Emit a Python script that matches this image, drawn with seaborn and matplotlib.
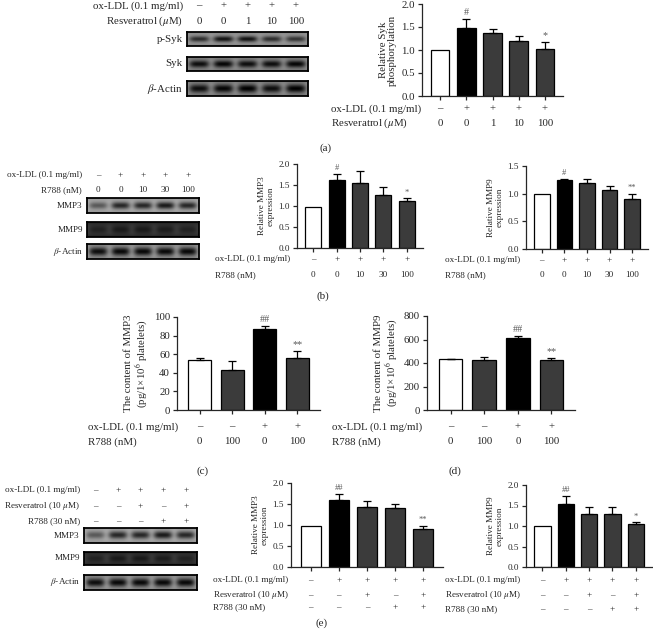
import numpy as np
import seaborn as sns
import matplotlib.pyplot as plt
from matplotlib.transforms import blended_transform_factory

# ---- data ----
# (a) ox-LDL + resveratrol, Syk phosphorylation
a_oxldl = ['–', '+', '+', '+', '+']
a_resv = ['0', '0', '1', '10', '100']
a_syk = [1.00, 1.47, 1.37, 1.19, 1.03]
a_syk_err = [0.0, 0.20, 0.08, 0.12, 0.15]
a_syk_sig = ['', '#', '', '', '*']
a_blot_psyk = [0.45, 0.55, 0.55, 0.45, 0.42]
a_blot_syk = [0.55, 0.58, 0.55, 0.55, 0.58]
a_blot_actin = [0.55, 0.58, 0.6, 0.55, 0.6]

# (b) ox-LDL + R788, MMP3 / MMP9 expression
b_oxldl = ['–', '+', '+', '+', '+']
b_r788 = ['0', '0', '10', '30', '100']
b_mmp3 = [0.97, 1.62, 1.55, 1.27, 1.11]
b_mmp3_err = [0.0, 0.15, 0.28, 0.19, 0.07]
b_mmp3_sig = ['', '#', '', '', '*']
b_mmp9 = [0.99, 1.25, 1.19, 1.07, 0.90]
b_mmp9_err = [0.0, 0.02, 0.07, 0.06, 0.10]
b_mmp9_sig = ['', '#', '', '', '**']
b_blot_mmp3 = [0.35, 0.55, 0.55, 0.6, 0.55]
b_blot_mmp9 = [0.12, 0.15, 0.15, 0.14, 0.12]
b_blot_actin = [0.6, 0.62, 0.62, 0.62, 0.62]

# (c)/(d) content in platelets
cd_oxldl = ['–', '–', '+', '+']
cd_r788 = ['0', '100', '0', '100']
c_mmp3 = [54, 43, 87, 56]
c_mmp3_err = [2, 10, 3, 7]
c_sig = ['', '', '##', '**']
d_mmp9 = [432, 425, 610, 425]
d_mmp9_err = [6, 27, 18, 17]
d_sig = ['', '', '##', '**']

# (e) ox-LDL + resveratrol + R788
e_oxldl = ['–', '+', '+', '+', '+']
e_resv = ['–', '–', '+', '–', '+']
e_r788 = ['–', '–', '–', '+', '+']
e_mmp3 = [0.98, 1.59, 1.44, 1.40, 0.90]
e_mmp3_err = [0.0, 0.16, 0.13, 0.11, 0.08]
e_mmp3_sig = ['', '##', '', '', '**']
e_mmp9 = [1.00, 1.54, 1.30, 1.30, 1.05]
e_mmp9_err = [0.0, 0.20, 0.16, 0.16, 0.04]
e_mmp9_sig = ['', '##', '', '', '*']
e_blot_mmp3 = [0.35, 0.55, 0.55, 0.6, 0.55]
e_blot_mmp9 = [0.12, 0.15, 0.15, 0.14, 0.12]
e_blot_actin = [0.6, 0.62, 0.62, 0.62, 0.62]

W, H = 653, 635
sns.set_theme(style='ticks')
plt.rcParams['font.family'] = ['Liberation Serif', 'DejaVu Serif']
plt.rcParams['mathtext.fontset'] = 'stix'

fig = plt.figure(figsize=(W / 100, H / 100), dpi=100)
fig.patch.set_facecolor('white')

WHITE, BLACK, GREY = 'white', 'black', '#3b3b3b'


def add_ax(l, t, r, b):
    return fig.add_axes([l / W, 1 - b / H, (r - l) / W, (b - t) / H])


def fy(y):
    return 1 - y / H


def bar_panel(box, vals, errs, sig, colors, ylim, yticks, ylabel, rows, label_x, fs):
    ax = add_ax(*box)
    cats = [str(i) for i in range(len(vals))]
    sns.barplot(x=cats, y=vals, hue=cats, palette=colors, legend=False, width=0.7,
                edgecolor='black', linewidth=0.9, ax=ax)
    idx = [i for i, e in enumerate(errs) if e > 0]
    ax.errorbar(idx, [vals[i] for i in idx],
                yerr=[[0] * len(idx), [errs[i] for i in idx]],
                fmt='none', ecolor='black', elinewidth=0.9, capsize=3, capthick=0.9)
    for i, s in enumerate(sig):
        if s:
            ax.text(i, vals[i] + errs[i] + (ylim[1] - ylim[0]) * 0.02, s, ha='center', va='bottom',
                    fontsize=fs - 0.5, color='0.35')
    ax.set_xlim(-0.7, len(vals) - 0.3)
    ax.set_ylim(*ylim)
    ax.set_yticks(yticks)
    ax.set_yticklabels([f'{t:.1f}' if isinstance(t, float) else str(t) for t in yticks], fontsize=fs)
    ax.set_xticks(range(len(vals)))
    ax.set_xticklabels([])
    ax.tick_params(length=3, width=0.9, pad=2)
    ax.set_ylabel(ylabel, fontsize=fs, labelpad=3, linespacing=1.0)
    ax.set_xlabel('')
    sns.despine(ax=ax)
    for s in ['left', 'bottom']:
        ax.spines[s].set_linewidth(0.9)
    tr = blended_transform_factory(ax.transData, fig.transFigure)
    for y, name, labels in rows:
        fig.text(label_x / W, fy(y), name, ha='left', va='center', fontsize=fs)
        for i, lab in enumerate(labels):
            ax.text(i, fy(y), lab, transform=tr, ha='center', va='center', fontsize=fs)
    return ax


def blot(box, lanes, bg, sy, label, fs):
    ax = add_ax(*box)
    n = len(lanes)
    X, Y = np.meshgrid(np.linspace(0, n, 300), np.linspace(0, 1, 40))
    img = np.full(X.shape, bg) - 0.12 * (np.abs(Y - 0.5) * 2) ** 3
    for i, v in enumerate(lanes):
        img = img - v * np.exp(-((X - (i + 0.5)) / 0.42) ** 4 - ((Y - 0.5) / sy) ** 2)
    ax.imshow(np.clip(img, 0, 1), cmap='gray', vmin=0, vmax=1, extent=(0, n, 0, 1),
              aspect='auto', origin='lower', interpolation='bilinear')
    ax.set_xticks([])
    ax.set_yticks([])
    for s in ax.spines.values():
        s.set_linewidth(1.3)
        s.set_color('black')
    ax.annotate(label, xy=(0, 0.5), xycoords='axes fraction', xytext=(-3, 0),
                textcoords='offset points', ha='right', va='center', fontsize=fs)
    return ax


def blot_header(ax, rows, right_x, fs):
    tr = blended_transform_factory(ax.transData, fig.transFigure)
    for y, name, labels in rows:
        fig.text(right_x / W, fy(y), name, ha='right', va='center', fontsize=fs)
        for i, lab in enumerate(labels):
            ax.text(i + 0.5, fy(y), lab, transform=tr, ha='center', va='center', fontsize=fs)


# ---- (a) ----
fa = 7.8
ax = blot((187, 32, 308, 46), a_blot_psyk, 0.62, 0.22, 'p-Syk', fa)
blot((187, 57, 308, 71), a_blot_syk, 0.6, 0.28, 'Syk', fa)
blot((187, 81, 308, 96), a_blot_actin, 0.6, 0.3, r'$\beta$-Actin', fa)
blot_header(ax, [(6, 'ox-LDL (0.1 mg/ml)', a_oxldl), (21, r'Resveratrol ($\mu$M)', a_resv)], 183, fa)
bar_panel((422, 4, 563, 96), a_syk, a_syk_err, a_syk_sig, [WHITE, BLACK, GREY, GREY, GREY],
          (0, 2.0), [0.0, 0.5, 1.0, 1.5, 2.0], 'Relative Syk\nphosphorylation',
          [(109, 'ox-LDL (0.1 mg/ml)', a_oxldl), (123, r'Resveratrol ($\mu$M)', a_resv)], 331, fa)
fig.text(326 / W, fy(148), '(a)', ha='center', va='center', fontsize=8)

# ---- (b) ----
fb = 6.6
ax = blot((87, 198, 199, 213), b_blot_mmp3, 0.7, 0.25, 'MMP3', fb)
blot((87, 222, 199, 237), b_blot_mmp9, 0.25, 0.3, 'MMP9', fb)
blot((87, 244, 199, 259), b_blot_actin, 0.65, 0.3, r'$\beta$-Actin', fb)
blot_header(ax, [(175, 'ox-LDL (0.1 mg/ml)', b_oxldl), (190, 'R788 (nM)', b_r788)], 82, fb)
bar_panel((297, 164, 423, 248), b_mmp3, b_mmp3_err, b_mmp3_sig, [WHITE, BLACK, GREY, GREY, GREY],
          (0, 2.0), [0.0, 0.5, 1.0, 1.5, 2.0], 'Relative MMP3\nexpression',
          [(259, 'ox-LDL (0.1 mg/ml)', b_oxldl), (275, 'R788 (nM)', b_r788)], 215, fb)
bar_panel((526, 166, 648, 249), b_mmp9, b_mmp9_err, b_mmp9_sig, [WHITE, BLACK, GREY, GREY, GREY],
          (0, 1.5), [0.0, 0.5, 1.0, 1.5], 'Relative MMP9\nexpression',
          [(260, 'ox-LDL (0.1 mg/ml)', b_oxldl), (275, 'R788 (nM)', b_r788)], 445, fb)
fig.text(323 / W, fy(296), '(b)', ha='center', va='center', fontsize=8)

# ---- (c), (d) ----
fc = 7.8
bar_panel((177, 317, 320, 410), c_mmp3, c_mmp3_err, c_sig, [WHITE, GREY, BLACK, GREY],
          (0, 100), [0, 20, 40, 60, 80, 100], 'The content of MMP3\n(pg/1×10$^6$ platelets)',
          [(427, 'ox-LDL (0.1 mg/ml)', cd_oxldl), (442, 'R788 (nM)', cd_r788)], 88, fc)
bar_panel((427, 316, 575, 410), d_mmp9, d_mmp9_err, d_sig, [WHITE, GREY, BLACK, GREY],
          (0, 800), [0, 200, 400, 600, 800], 'The content of MMP9\n(pg/1×10$^6$ platelets)',
          [(427, 'ox-LDL (0.1 mg/ml)', cd_oxldl), (442, 'R788 (nM)', cd_r788)], 332, fc)
fig.text(203 / W, fy(471), '(c)', ha='center', va='center', fontsize=8)
fig.text(455 / W, fy(471), '(d)', ha='center', va='center', fontsize=8)

# ---- (e) ----
fe = 6.6
ax = blot((84, 528, 197, 543), e_blot_mmp3, 0.7, 0.25, 'MMP3', fe)
blot((84, 552, 197, 565), e_blot_mmp9, 0.25, 0.3, 'MMP9', fe)
blot((84, 575, 197, 590), e_blot_actin, 0.65, 0.3, r'$\beta$-Actin', fe)
blot_header(ax, [(490, 'ox-LDL (0.1 mg/ml)', e_oxldl), (506, r'Resveratrol (10 $\mu$M)', e_resv),
                 (521, 'R788 (30 nM)', e_r788)], 80, fe)
bar_panel((291, 483, 443, 567), e_mmp3, e_mmp3_err, e_mmp3_sig, [WHITE, BLACK, GREY, GREY, GREY],
          (0, 2.0), [0.0, 0.5, 1.0, 1.5, 2.0], 'Relative MMP3\nexpression',
          [(580, 'ox-LDL (0.1 mg/ml)', e_oxldl), (595, r'Resveratrol (10 $\mu$M)', e_resv),
           (607, 'R788 (30 nM)', e_r788)], 213, fe)
bar_panel((526, 485, 652, 567), e_mmp9, e_mmp9_err, e_mmp9_sig, [WHITE, BLACK, GREY, GREY, GREY],
          (0, 2.0), [0.0, 0.5, 1.0, 1.5, 2.0], 'Relative MMP9\nexpression',
          [(580, 'ox-LDL (0.1 mg/ml)', e_oxldl), (595, r'Resveratrol (10 $\mu$M)', e_resv),
           (609, 'R788 (30 nM)', e_r788)], 445, fe)
fig.text(322 / W, fy(623), '(e)', ha='center', va='center', fontsize=8)

fig.savefig('out.png', dpi=100)
